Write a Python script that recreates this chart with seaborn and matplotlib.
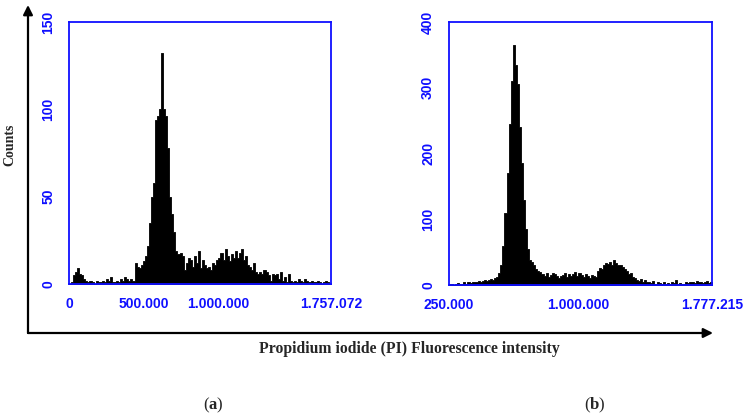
import numpy as np
import pandas as pd
import matplotlib
matplotlib.use("Agg")
import matplotlib.pyplot as plt
from matplotlib.patches import FancyArrowPatch
import seaborn as sns

# Panel (a): PI histogram, 128 channels over 0 - 1.757.072
a_min, a_max = 0, 1757072
a_counts = [0, 1, 5, 7, 9, 6, 5, 3, 2, 1, 2, 1, 0, 2, 1, 1,
            2, 1, 3, 2, 4, 1, 1, 2, 1, 3, 2, 4, 3, 2, 3, 2,
            12, 10, 9, 11, 13, 16, 22, 35, 50, 58, 94, 96, 100, 132, 100, 96,
            78, 50, 40, 30, 19, 17, 18, 16, 8, 12, 15, 14, 10, 16, 12, 19,
            9, 14, 11, 9, 10, 8, 12, 11, 14, 15, 18, 14, 20, 16, 13, 17,
            15, 19, 15, 18, 20, 14, 16, 11, 10, 8, 12, 7, 6, 7, 6, 8,
            7, 5, 2, 6, 5, 6, 3, 7, 2, 4, 1, 6, 2, 1, 2, 1,
            3, 2, 1, 3, 2, 1, 2, 1, 1, 2, 1, 0, 1, 2, 1, 0]
a_ticks = [0, 500000, 1000000, 1500000, 1757072]
a_ticklabels = ['0', '500.000', '1.000.000', '', '1.757.072']
a_yticks = [0, 50, 100, 150]

# Panel (b): PI histogram, 128 channels over 250.000 - 1.777.215
b_min, b_max = 250000, 1777215
b_counts = [1, 2, 0, 1, 3, 1, 2, 4, 2, 5, 3, 4, 5, 4, 6, 5,
            6, 7, 6, 8, 9, 8, 10, 12, 18, 30, 60, 110, 170, 245, 310, 365,
            335, 305, 240, 185, 130, 85, 55, 38, 35, 30, 25, 22, 20, 16, 13, 18,
            12, 15, 19, 17, 14, 10, 13, 15, 18, 12, 17, 14, 16, 20, 13, 18,
            15, 12, 16, 14, 11, 15, 13, 12, 22, 26, 25, 30, 33, 32, 35, 30,
            38, 33, 30, 31, 27, 24, 21, 16, 18, 12, 10, 8, 6, 9, 5, 7,
            4, 5, 3, 6, 2, 4, 3, 2, 5, 2, 3, 1, 4, 3, 8, 2,
            3, 1, 2, 4, 3, 5, 4, 3, 6, 4, 5, 3, 4, 6, 3, 5]
b_ticks = [250000, 500000, 1000000, 1500000, 1777215]
b_ticklabels = ['250.000', '', '1.000.000', '', '1.777.215']
b_yticks = [0, 100, 200, 300, 400]

sns.set_style('white')
plt.rcParams['font.family'] = ['Liberation Sans', 'DejaVu Sans']
plt.rcParams['mathtext.fontset'] = 'custom'
plt.rcParams['mathtext.rm'] = 'Liberation Serif'
plt.rcParams['mathtext.bf'] = 'Liberation Serif:bold'

blue = '#0f0fff'
W, H = 746, 419
fig = plt.figure(figsize=(W / 100, H / 100), dpi=100)


def draw_panel(rect, counts, lo, hi, ticks, ticklabels, yticks):
    ax = fig.add_axes(rect)
    edges = np.linspace(lo, hi, len(counts) + 1)
    df = pd.DataFrame({'intensity': (edges[:-1] + edges[1:]) / 2,
                       'count': counts})
    sns.histplot(data=df, x='intensity', weights='count', bins=list(edges),
                 element='step', fill=True, color='black', alpha=1,
                 linewidth=0.6, ax=ax)
    ax.set_xlim(lo, hi)
    ax.set_ylim(yticks[0], yticks[-1])
    ax.set_xticks(ticks)
    ax.set_xticklabels(ticklabels)
    ax.set_yticks(yticks)
    ax.set_yticklabels([str(v) for v in yticks])
    ax.set_xlabel('')
    ax.set_ylabel('')
    for s in ax.spines.values():
        s.set_color(blue)
        s.set_linewidth(1.3)
    ax.tick_params(axis='both', direction='out', length=5, width=1.3,
                   color=blue, labelcolor=blue, labelsize=10)
    ax.tick_params(axis='x', pad=4)
    ax.tick_params(axis='y', pad=5)
    for lab in ax.get_yticklabels() + ax.get_xticklabels():
        lab.set_fontweight('semibold')
    for lab in ax.get_yticklabels():
        lab.set_rotation(90)
        lab.set_va('center')
    return ax


draw_panel([69 / W, 1 - 284 / H, 262 / W, 262 / H], a_counts, a_min, a_max,
           a_ticks, a_ticklabels, a_yticks)
draw_panel([449 / W, 1 - 285 / H, 263 / W, 263 / H], b_counts, b_min, b_max,
           b_ticks, b_ticklabels, b_yticks)

# black axis arrows around both panels
corner = (28 / W, 1 - 333 / H)
for tip in [(28 / W, 1 - 5 / H), (713 / W, 1 - 333 / H)]:
    fig.add_artist(FancyArrowPatch(corner, tip, transform=fig.transFigure,
                                   arrowstyle='-|>', mutation_scale=14,
                                   color='black', linewidth=1.6,
                                   shrinkA=0, shrinkB=0))

serif = ['Liberation Serif', 'DejaVu Serif']
fig.text(10 / W, 1 - 145 / H, 'Counts', rotation=90, ha='center', va='center',
         family=serif, fontweight='bold', fontsize=10)
fig.text(409 / W, 1 - 349 / H, 'Propidium iodide (PI) Fluorescence intensity',
         ha='center', va='center', family=serif, fontweight='bold', fontsize=11.3)
fig.text(213 / W, 1 - 405 / H, r'($\mathbf{a}$)', ha='center', va='center',
         family=serif, fontsize=12)
fig.text(595 / W, 1 - 405 / H, r'($\mathbf{b}$)', ha='center', va='center',
         family=serif, fontsize=12)

fig.savefig('out.png', dpi=100)
